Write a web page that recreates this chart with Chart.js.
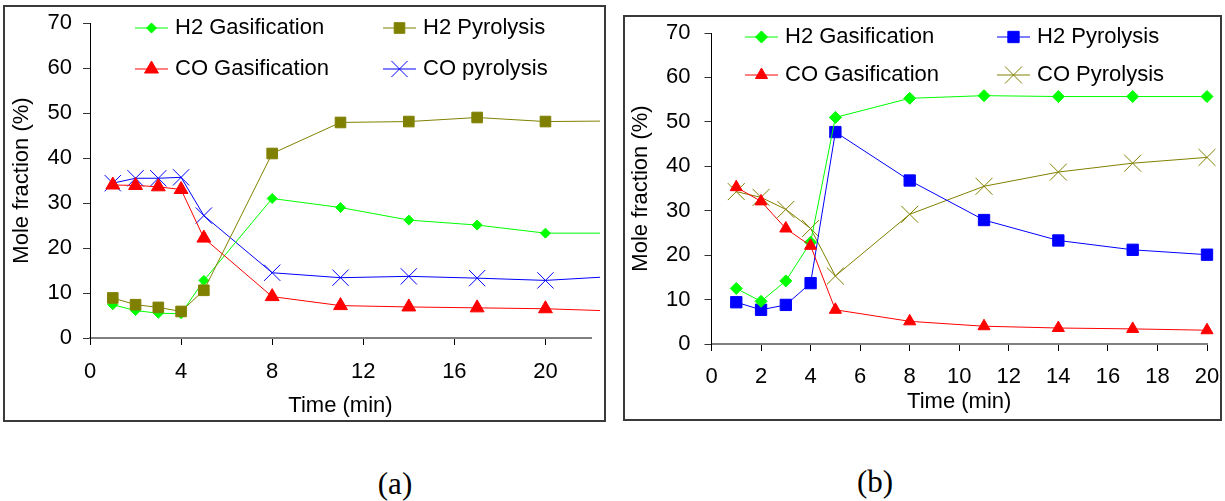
<!DOCTYPE html>
<html>
<head>
<meta charset="utf-8">
<script src="https://cdn.jsdelivr.net/npm/chart.js@4.4.1/dist/chart.umd.min.js"></script>
<style>
  html, body { margin: 0; padding: 0; background: #fff; }
  body { width: 1225px; height: 501px; position: relative; overflow: hidden; }
  .box { position: absolute; border: 2px solid #3a3a3a; background: #fff; }
  .box canvas { display: block; }
  .caption { position: absolute; width: 100px; text-align: center; font-family: 'Liberation Serif', 'Times New Roman', serif; font-size: 31px; line-height: 31px; color: #000; }
</style>
</head>
<body>
<div class="box" style="left:3px; top:5px; width:599px; height:413px;"><canvas id="chartA" width="599" height="413"></canvas></div>
<div class="box" style="left:623px; top:15px; width:595px; height:402px;"><canvas id="chartB" width="595" height="402"></canvas></div>
<div class="caption" style="left:345px; top:468px;">(a)</div>
<div class="caption" style="left:825px; top:466px;">(b)</div>
<script>
// ---- data (time in min, mole fraction in %) ----
// last entry of each time array is where the line runs on past the last marker
var timeA = [1, 2, 3, 4, 5, 8, 11, 14, 17, 20, 22.4];
var h2GasA = [7.4, 6.1, 5.5, 5.4, 12.8, 31.0, 29.0, 26.2, 25.1, 23.3, 23.3];
var h2PyrA = [8.9, 7.4, 6.8, 5.9, 10.6, 41.0, 47.9, 48.1, 49.0, 48.1, 48.2];
var coGasA = [34.0, 33.9, 33.6, 33.0, 22.2, 9.2, 7.2, 6.9, 6.7, 6.5, 6.1];
var coPyrA = [34.4, 35.5, 35.5, 35.7, 27.2, 14.5, 13.4, 13.7, 13.3, 12.8, 13.5];

var timeB = [1, 2, 3, 4, 5, 8, 11, 14, 17, 20, 20.5];
var h2GasB = [12.5, 9.6, 14.2, 22.9, 51.0, 55.3, 55.9, 55.7, 55.7, 55.7, 55.7];
var h2PyrB = [9.4, 7.7, 8.8, 13.7, 47.7, 36.8, 27.9, 23.3, 21.2, 20.1, null];
var coGasB = [35.3, 32.1, 26.0, 22.1, 7.7, 5.1, 4.0, 3.6, 3.4, 3.1, 3.1];
var coPyrB = [34.3, 33.0, 30.3, 26.0, 15.3, 29.2, 35.5, 38.7, 40.7, 42.0, null];

var markedCount = 10; // points that carry a marker

var labelsA = ['H2 Gasification', 'H2 Pyrolysis', 'CO Gasification', 'CO pyrolysis'];
var labelsB = ['H2 Gasification', 'H2 Pyrolysis', 'CO Gasification', 'CO Pyrolysis'];

var FONT = "'Liberation Sans', Arial, Helvetica, sans-serif";

function points(xs, ys) {
    return ys.map(function(v, i) { return { x: xs[i], y: v }; });
}

function series(label, xs, ys, color, style, radius, order) {
    return {
        label: label,
        data: points(xs, ys),
        borderColor: color,
        borderWidth: 1,
        backgroundColor: color,
        pointBackgroundColor: color,
        pointBorderColor: color,
        pointBorderWidth: 1,
        pointStyle: style,
        legendRadius: radius,
        pointRadius: function(c) { return c.dataIndex < markedCount ? radius : 0; },
        tension: 0,
        clip: false,
        order: order
    };
}

// Legend drawn in two columns inside the plot, like the original
var cornerLegend = {
    id: 'cornerLegend',
    afterDraw: function(chart, args, opts) {
        var ctx = chart.ctx;
        ctx.save();
        ctx.font = '22px ' + FONT;
        ctx.textBaseline = 'middle';
        chart.data.datasets.forEach(function(ds, i) {
            var x = opts.cols[i % 2];
            var y = opts.rows[Math.floor(i / 2)];
            ctx.strokeStyle = ds.borderColor;
            ctx.lineWidth = 1;
            ctx.beginPath();
            ctx.moveTo(x, y);
            ctx.lineTo(x + opts.lineLen, y);
            ctx.stroke();
            ctx.fillStyle = ds.pointBackgroundColor;
            ctx.strokeStyle = ds.pointBorderColor;
            Chart.helpers.drawPoint(ctx, { pointStyle: ds.pointStyle, radius: ds.legendRadius, borderWidth: 1, rotation: 0 }, x + opts.lineLen / 2, y);
            ctx.fillStyle = '#000';
            ctx.fillText(ds.label, x + opts.lineLen + opts.gap, y);
        });
        ctx.restore();
    }
};

function makeChart(id, datasets, p) {
    var ctx = document.getElementById(id).getContext('2d');
    return new Chart(ctx, {
        type: 'line',
        data: { datasets: datasets },
        plugins: [cornerLegend],
        options: {
            responsive: false,
            animation: false,
            layout: { padding: { left: 0, top: p.padTop, right: p.padRight, bottom: 0 } },
            plugins: {
                legend: { display: false },
                tooltip: { enabled: false },
                cornerLegend: p.legend
            },
            scales: {
                x: {
                    type: 'linear',
                    min: 0,
                    max: p.xMax,
                    grid: { drawOnChartArea: false, drawTicks: true, tickLength: 7, color: '#000' },
                    border: { color: '#808080', width: 2 },
                    ticks: {
                        stepSize: p.xStep,
                        includeBounds: false,
                        padding: p.xPad,
                        color: '#000',
                        font: { family: FONT, size: 22 },
                        maxRotation: 0
                    },
                    title: {
                        display: true,
                        text: 'Time (min)',
                        color: '#000',
                        font: { family: FONT, size: 22 },
                        padding: { top: 0, bottom: p.xTitlePad }
                    },
                    afterFit: function(s) { s.height = p.xHeight; s.paddingLeft = 0; s.paddingRight = 0; }
                },
                y: {
                    min: 0,
                    max: 70,
                    grid: { drawOnChartArea: false, drawTicks: true, tickLength: 7, color: '#333' },
                    border: { color: '#000', width: 1 },
                    ticks: {
                        stepSize: 10,
                        padding: p.yPad,
                        color: '#000',
                        font: { family: FONT, size: 22 }
                    },
                    title: {
                        display: true,
                        text: 'Mole fraction (%)',
                        color: '#000',
                        font: { family: FONT, size: 22 },
                        padding: { top: p.yTitlePad, bottom: 0 }
                    },
                    afterFit: function(s) { s.width = p.yWidth; s.paddingTop = 0; s.paddingBottom = 0; }
                }
            }
        }
    });
}

// (a)
makeChart('chartA', [
    series(labelsA[0], timeA, h2GasA, '#00ff00', 'rectRot', 5, 2),
    series(labelsA[1], timeA, h2PyrA, '#808000', 'rect', 7.5, 0),
    series(labelsA[2], timeA, coGasA, '#ff0000', 'triangle', 8, 1),
    series(labelsA[3], timeA, coPyrA, '#0000ff', 'crossRot', 11.5, 3)
], {
    padTop: 16, padRight: 13, xMax: 22, xStep: 4, xPad: 14, xHeight: 82, xTitlePad: 1,
    yPad: 11, yWidth: 85, yTitlePad: 4,
    legend: { cols: [130, 378], rows: [21, 62], lineLen: 33, gap: 7 }
});

// (b)
makeChart('chartB', [
    series(labelsB[0], timeB, h2GasB, '#00ff00', 'rectRot', 6, 1),
    series(labelsB[1], timeB, h2PyrB, '#0000ff', 'rect', 8, 2),
    series(labelsB[2], timeB, coGasB, '#ff0000', 'triangle', 7, 0),
    series(labelsB[3], timeB, coPyrB, '#808000', 'crossRot', 12, 3)
], {
    padTop: 16, padRight: 12, xMax: 20, xStep: 2, xPad: 13, xHeight: 75, xTitlePad: 4,
    yPad: 14, yWidth: 86.5, yTitlePad: 3,
    legend: { cols: [120, 372], rows: [20, 58], lineLen: 33, gap: 7 }
});
</script>
</body>
</html>
